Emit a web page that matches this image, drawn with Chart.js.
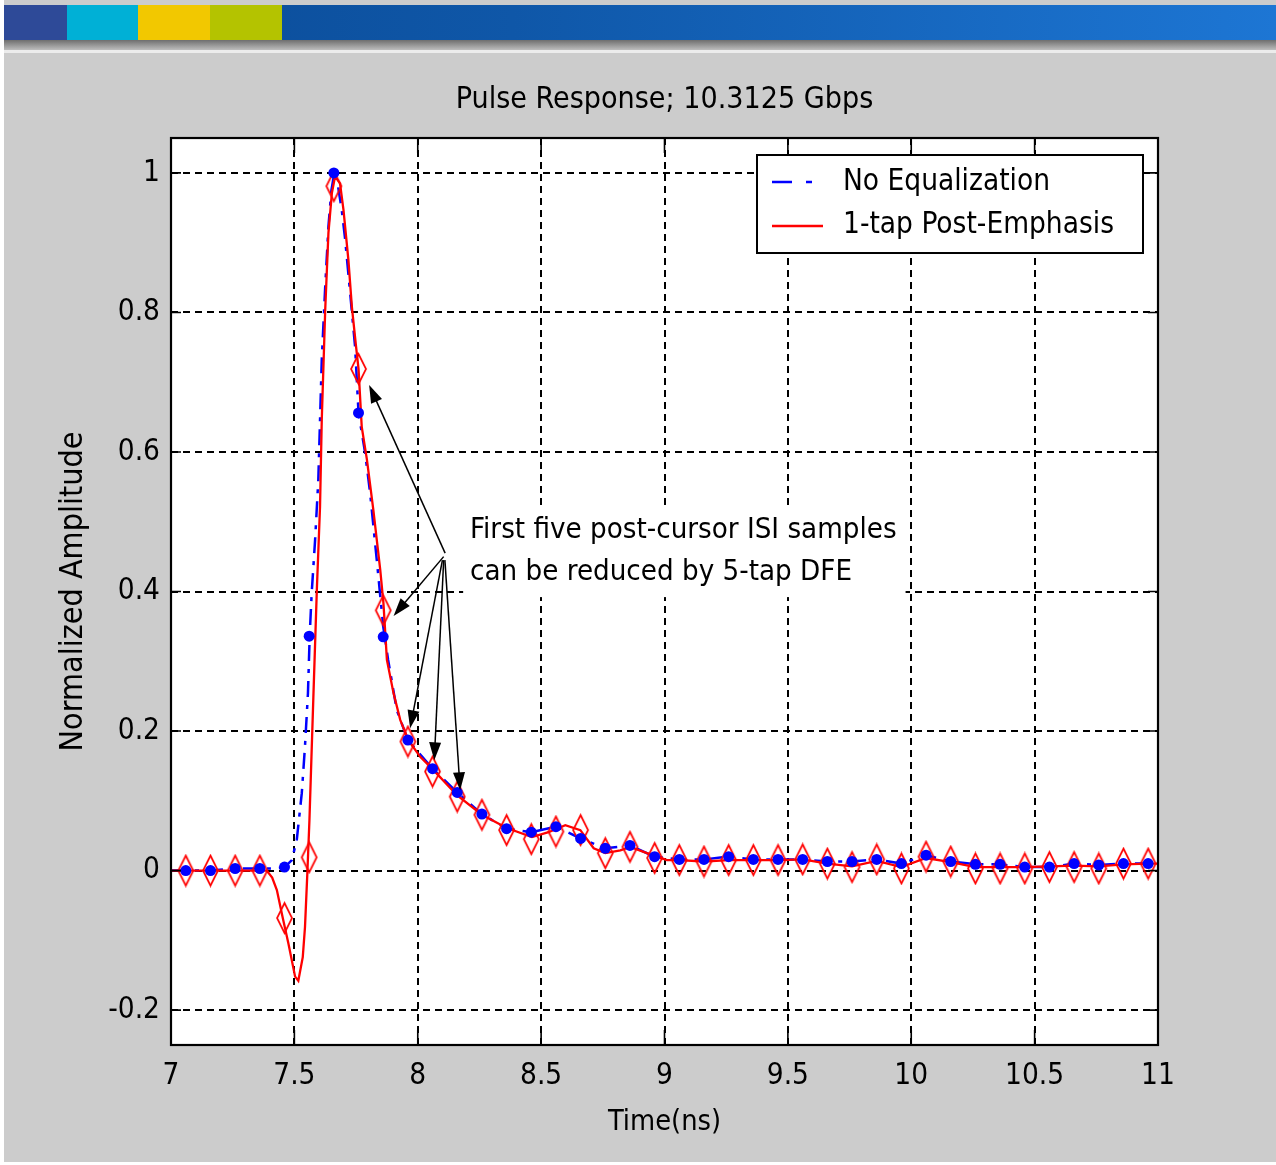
<!DOCTYPE html>
<html>
<head>
<meta charset="utf-8">
<script src="https://cdn.jsdelivr.net/npm/chart.js@4.4.1/dist/chart.umd.min.js"></script>
<style>
html, body { margin: 0; padding: 0; }
body { width: 1276px; height: 1165px; background: #ffffff; position: relative; overflow: hidden; }
#panel { position: absolute; left: 4px; top: 0; width: 1272px; height: 1162px; background: #cccccc; }
#banner { position: absolute; left: 4px; top: 5px; width: 1272px; height: 35px; background: linear-gradient(to right, #0a4994, #0f57a8 40%, #1d76d4); }
.blk { position: absolute; top: 0; height: 35px; }
#shadow { position: absolute; left: 4px; top: 40px; width: 1272px; height: 10px; background: linear-gradient(#6e6e6e, #bdbdbd); }
#hl { position: absolute; left: 4px; top: 50px; width: 1272px; height: 3px; background: #ececec; }
#wrap { position: absolute; left: 0; top: 0; width: 1276px; height: 1165px; }
</style>
</head>
<body>
<div id="panel"></div>
<div id="banner">
  <div class="blk" style="left:0;width:63px;background:#2e4a98"></div>
  <div class="blk" style="left:63px;width:71px;background:#00b0d6"></div>
  <div class="blk" style="left:134px;width:72px;background:#f2c800"></div>
  <div class="blk" style="left:206px;width:72px;background:#b4c300"></div>
</div>
<div id="shadow"></div>
<div id="hl"></div>
<div id="wrap"><canvas id="c" width="1276" height="1165"></canvas></div>
<script>
// sample instants (ns), one per UI
const sampleTimes = [7.06, 7.16, 7.26, 7.36, 7.46, 7.56, 7.66, 7.76, 7.86, 7.96,
  8.06, 8.16, 8.26, 8.36, 8.46, 8.56, 8.66, 8.76, 8.86, 8.96,
  9.06, 9.16, 9.26, 9.36, 9.46, 9.56, 9.66, 9.76, 9.86, 9.96,
  10.06, 10.16, 10.26, 10.36, 10.46, 10.56, 10.66, 10.76, 10.86, 10.96];

const noEqSamples = [0, 0, 0.003, 0.003, 0.005, 0.336, 1.0, 0.656, 0.335, 0.187,
  0.146, 0.112, 0.081, 0.060, 0.055, 0.063, 0.046, 0.032, 0.036, 0.020,
  0.016, 0.016, 0.020, 0.016, 0.016, 0.016, 0.013, 0.013, 0.016, 0.010,
  0.022, 0.013, 0.009, 0.009, 0.005, 0.005, 0.010, 0.008, 0.010, 0.010];

const postEmphSamples = [0, 0, 0, 0, -0.068, 0.019, 0.981, 0.719, 0.373, 0.185,
  0.142, 0.106, 0.080, 0.058, 0.045, 0.056, 0.058, 0.025, 0.034, 0.018,
  0.015, 0.013, 0.015, 0.015, 0.015, 0.016, 0.010, 0.005, 0.016, 0.003,
  0.020, 0.013, 0.003, 0.003, 0.003, 0.005, 0.005, 0.003, 0.010, 0.010];

// continuous waveforms
const noEqTime = [7.0, 7.06, 7.16, 7.26, 7.36, 7.42, 7.46, 7.49, 7.51, 7.53, 7.543, 7.555, 7.562, 7.57,
  7.584, 7.597, 7.611, 7.625, 7.638, 7.65, 7.662, 7.675, 7.692, 7.706, 7.726, 7.746, 7.76,
  7.787, 7.807, 7.834, 7.86, 7.88, 7.915, 7.96,
  8.06, 8.16, 8.26, 8.36, 8.46, 8.56, 8.66, 8.76, 8.86, 8.96,
  9.06, 9.16, 9.26, 9.36, 9.46, 9.56, 9.66, 9.76, 9.86, 9.96,
  10.06, 10.16, 10.26, 10.36, 10.46, 10.56, 10.66, 10.76, 10.86, 10.96, 11.0];
const noEqWave = [0, 0, 0, 0.003, 0.003, 0.003, 0.005, 0.015, 0.045, 0.111, 0.178, 0.254, 0.336, 0.397,
  0.474, 0.56, 0.732, 0.837, 0.923, 0.975, 1.0, 0.985, 0.947, 0.904, 0.828, 0.751, 0.656,
  0.598, 0.541, 0.445, 0.35, 0.302, 0.23, 0.187,
  0.146, 0.112, 0.081, 0.060, 0.055, 0.063, 0.046, 0.032, 0.036, 0.020,
  0.016, 0.016, 0.020, 0.016, 0.016, 0.016, 0.013, 0.013, 0.016, 0.010,
  0.022, 0.013, 0.009, 0.009, 0.005, 0.005, 0.010, 0.008, 0.010, 0.010, 0.010];

const postEmphTime = [7.0, 7.388, 7.41, 7.429, 7.453, 7.476, 7.503, 7.516, 7.534, 7.543, 7.553, 7.561,
  7.577, 7.591, 7.604, 7.611, 7.625, 7.638, 7.652, 7.665, 7.685, 7.699, 7.719, 7.733, 7.75, 7.76,
  7.773, 7.794, 7.82, 7.848, 7.861, 7.875, 7.902, 7.929, 7.962, 8.01, 8.064, 8.159, 8.26, 8.361,
  8.463, 8.53, 8.598, 8.659, 8.713, 8.76, 8.821, 8.861, 8.929, 9.01,
  9.06, 9.16, 9.26, 9.36, 9.46, 9.56, 9.66, 9.76, 9.86, 9.96,
  10.06, 10.16, 10.26, 10.36, 10.46, 10.56, 10.66, 10.76, 10.86, 10.96, 11.0];
const postEmphWave = [0, 0, -0.01, -0.028, -0.068, -0.105, -0.152, -0.158, -0.124, -0.081, 0.0, 0.072,
  0.249, 0.402, 0.522, 0.646, 0.804, 0.914, 0.971, 0.995, 0.985, 0.947, 0.875, 0.808, 0.751, 0.719,
  0.636, 0.589, 0.517, 0.431, 0.383, 0.302, 0.254, 0.216, 0.187, 0.163, 0.144, 0.108, 0.080, 0.061,
  0.048, 0.055, 0.065, 0.058, 0.032, 0.025, 0.029, 0.034, 0.025, 0.015,
  0.015, 0.013, 0.015, 0.015, 0.015, 0.016, 0.010, 0.006, 0.014, 0.005,
  0.018, 0.012, 0.005, 0.005, 0.005, 0.006, 0.007, 0.006, 0.009, 0.010, 0.010];

const xTicks = [7, 7.5, 8, 8.5, 9, 9.5, 10, 10.5, 11];
const yTicks = [-0.2, 0, 0.2, 0.4, 0.6, 0.8, 1];

const seriesNames = ['No Equalization', '1-tap Post-Emphasis'];
const noteLines = ['First five post-cursor ISI samples', 'can be reduced by 5-tap DFE'];
// arrows: [fromX, fromY, toX, toY] in data units
const noteArrows = [
  [8.111, 0.455, 7.803, 0.696],
  [8.105, 0.450, 7.902, 0.365],
  [8.100, 0.445, 7.969, 0.204],
  [8.105, 0.445, 8.067, 0.158],
  [8.110, 0.445, 8.172, 0.115]
];

const pts = (xs, ys) => xs.map((x, i) => ({ x, y: ys[i] }));

// the original uses a narrow bitmap font; pick a condensed face if one exists
function pickFont() {
    const g = document.createElement('canvas').getContext('2d');
    const probe = 'No Equalization';
    const width = f => { g.font = f; return g.measureText(probe).width; };
    const mono = width('40px monospace');
    const tries = [
        { family: "'Liberation Sans Narrow'", weight: 'normal' },
        { family: "'DejaVu Sans Condensed'", weight: 'normal' },
        { family: "'Open Sans'", weight: 'condensed' },
        { family: "'Noto Sans'", weight: 'condensed' },
        { family: "'DejaVu Sans'", weight: 'condensed' },
        { family: "'Liberation Sans'", weight: 'condensed' }
    ];
    for (const t of tries) {
        const w = width(`${t.weight} 40px ${t.family}, monospace`);
        if (w === mono) continue;
        if (t.weight === 'condensed') {
            const plain = width(`40px ${t.family}, monospace`);
            if (w >= plain * 0.95) continue;
        }
        const w35 = width(`${t.weight} 35px ${t.family}`);
        return { family: t.family + ", 'Liberation Sans', Arial, sans-serif", weight: t.weight, k: Math.min(1.15, 207 / w35) };
    }
    const w35 = width("35px 'Liberation Sans'");
    return { family: "'Liberation Sans', Arial, sans-serif", weight: 'normal', k: 207 / w35 };
}
const F = pickFont();
const fnt = size => ({ family: F.family, weight: F.weight, size: Math.round(size * F.k * 10) / 10, lineHeight: 1.2 });
const fstr = size => `${F.weight} ${Math.round(size * F.k * 10) / 10}px ${F.family}`;

function makeDiamond(w, h, color) {
    const c = document.createElement('canvas');
    c.width = w + 4;
    c.height = h + 4;
    const g = c.getContext('2d');
    g.strokeStyle = color;
    g.lineWidth = 1.7;
    g.beginPath();
    g.moveTo(c.width / 2, 2);
    g.lineTo(c.width - 2, c.height / 2);
    g.lineTo(c.width / 2, c.height - 2);
    g.lineTo(2, c.height / 2);
    g.closePath();
    g.stroke();
    return c;
}

function arrow(ctx, x1, y1, x2, y2) {
    const a = Math.atan2(y2 - y1, x2 - x1);
    const len = 18, hw = 6;
    ctx.beginPath();
    ctx.moveTo(x1, y1);
    ctx.lineTo(x2 - Math.cos(a) * len * 0.8, y2 - Math.sin(a) * len * 0.8);
    ctx.stroke();
    ctx.beginPath();
    ctx.moveTo(x2, y2);
    ctx.lineTo(x2 - Math.cos(a) * len - Math.sin(a) * hw, y2 - Math.sin(a) * len + Math.cos(a) * hw);
    ctx.lineTo(x2 - Math.cos(a) * len + Math.sin(a) * hw, y2 - Math.sin(a) * len - Math.cos(a) * hw);
    ctx.closePath();
    ctx.fill();
}

const decorations = {
    id: 'decorations',
    beforeDraw(chart) {
        const { ctx, chartArea: a } = chart;
        ctx.save();
        ctx.fillStyle = '#ffffff';
        ctx.fillRect(a.left, a.top, a.right - a.left, a.bottom - a.top);
        ctx.restore();
    },
    beforeDatasetsDraw(chart) {
        const { ctx, scales: { x, y } } = chart;
        ctx.save();
        // text box with white background over the grid
        const bx = x.getPixelForValue(8.184), by = y.getPixelForValue(0.524);
        const bx2 = x.getPixelForValue(9.977), by2 = y.getPixelForValue(0.392);
        ctx.fillStyle = '#ffffff';
        ctx.fillRect(bx, by, bx2 - bx, by2 - by);
        ctx.fillStyle = '#000000';
        ctx.font = fstr(34.7);
        ctx.textBaseline = 'middle';
        ctx.fillText(noteLines[0], x.getPixelForValue(8.212), y.getPixelForValue(0.487));
        ctx.fillText(noteLines[1], x.getPixelForValue(8.212), y.getPixelForValue(0.427));
        ctx.restore();
    },
    afterDatasetsDraw(chart) {
        const { ctx, chartArea: a, scales: { x, y } } = chart;
        ctx.save();
        ctx.strokeStyle = '#000000';
        ctx.fillStyle = '#000000';
        ctx.lineWidth = 1.5;
        noteArrows.forEach(([fx, fy, tx, ty]) => {
            arrow(ctx, x.getPixelForValue(fx), y.getPixelForValue(fy), x.getPixelForValue(tx), y.getPixelForValue(ty));
        });

        // inner ticks
        ctx.lineWidth = 1.6;
        ctx.beginPath();
        xTicks.forEach(v => {
            const px = x.getPixelForValue(v);
            ctx.moveTo(px, a.bottom); ctx.lineTo(px, a.bottom - 15);
            ctx.moveTo(px, a.top); ctx.lineTo(px, a.top + 15);
        });
        yTicks.forEach(v => {
            const py = y.getPixelForValue(v);
            ctx.moveTo(a.left, py); ctx.lineTo(a.left + 10, py);
            ctx.moveTo(a.right, py); ctx.lineTo(a.right - 10, py);
        });
        ctx.stroke();

        // axes box
        ctx.lineWidth = 2.2;
        ctx.strokeRect(a.left, a.top, a.right - a.left, a.bottom - a.top);

        // legend
        const lx = a.right - 401, ly = a.top + 17, lw = 386, lh = 98;
        ctx.fillStyle = '#ffffff';
        ctx.fillRect(lx, ly, lw, lh);
        ctx.lineWidth = 2;
        ctx.strokeRect(lx, ly, lw, lh);
        ctx.lineWidth = 2.5;
        ctx.strokeStyle = '#0000ff';
        ctx.setLineDash([20, 14, 6, 14]);
        ctx.beginPath();
        ctx.moveTo(lx + 15, ly + 27); ctx.lineTo(lx + 56, ly + 27);
        ctx.stroke();
        ctx.setLineDash([]);
        ctx.strokeStyle = '#ff0000';
        ctx.lineWidth = 2.3;
        ctx.beginPath();
        ctx.moveTo(lx + 15, ly + 71); ctx.lineTo(lx + 66, ly + 71);
        ctx.stroke();
        ctx.fillStyle = '#000000';
        ctx.font = fstr(35);
        ctx.textBaseline = 'middle';
        ctx.fillText(seriesNames[0], lx + 86, ly + 27);
        ctx.fillText(seriesNames[1], lx + 86, ly + 70);
        ctx.restore();
    }
};

const diamond = makeDiamond(15, 30, '#ff0000');

new Chart(document.getElementById('c'), {
    type: 'scatter',
    data: {
        datasets: [
            {
                label: seriesNames[0] + ' samples',
                data: pts(sampleTimes, noEqSamples),
                showLine: false,
                pointStyle: 'circle',
                pointRadius: 5.5,
                backgroundColor: '#0000ff',
                borderColor: '#0000ff',
                borderWidth: 0,
                order: 0
            },
            {
                label: seriesNames[1] + ' samples',
                data: pts(sampleTimes, postEmphSamples),
                showLine: false,
                pointStyle: diamond,
                pointRadius: 8,
                order: 1
            },
            {
                label: seriesNames[1],
                data: pts(postEmphTime, postEmphWave),
                showLine: true,
                borderColor: '#ff0000',
                borderWidth: 2.3,
                pointRadius: 0,
                tension: 0,
                order: 2
            },
            {
                label: seriesNames[0],
                data: pts(noEqTime, noEqWave),
                showLine: true,
                borderColor: '#0000ff',
                borderWidth: 2.5,
                borderDash: [16, 8, 4, 8],
                pointRadius: 0,
                tension: 0,
                order: 3
            }
        ]
    },
    options: {
        responsive: false,
        animation: false,
        devicePixelRatio: 1,
        layout: { padding: { top: 0, right: 118, bottom: 0, left: 0 } },
        plugins: {
            legend: { display: false },
            tooltip: { enabled: false },
            title: {
                display: true,
                text: 'Pulse Response; 10.3125 Gbps',
                color: '#000000',
                fullSize: false,
                font: { ...fnt(35.7), lineHeight: 40 / (35.7 * F.k) },
                padding: { top: 80, bottom: 18 }
            }
        },
        scales: {
            x: {
                type: 'linear',
                min: 7,
                max: 11,
                afterFit: s => { s.height = 120; },
                afterBuildTicks: s => { s.ticks = xTicks.map(v => ({ value: v })); },
                ticks: {
                    color: '#000000',
                    padding: 14,
                    maxRotation: 0,
                    autoSkip: false,
                    font: fnt(35),
                    callback: v => String(Number(v.toFixed(1)))
                },
                grid: { color: '#000000', lineWidth: 2, drawTicks: false },
                border: { display: false, dash: [7, 5] },
                title: {
                    display: true,
                    text: 'Time(ns)',
                    color: '#000000',
                    font: fnt(34),
                    padding: { top: 0, bottom: 25 }
                }
            },
            y: {
                type: 'linear',
                min: -0.25,
                max: 1.05,
                afterFit: s => { s.width = 171; },
                afterBuildTicks: s => { s.ticks = yTicks.map(v => ({ value: v })); },
                ticks: {
                    color: '#000000',
                    padding: 11,
                    autoSkip: false,
                    font: fnt(35),
                    callback: v => String(Number(v.toFixed(1)))
                },
                grid: { color: '#000000', lineWidth: 2, drawTicks: false },
                border: { display: false, dash: [7, 5] },
                title: {
                    display: true,
                    text: 'Normalized Amplitude',
                    color: '#000000',
                    font: fnt(38),
                    padding: { top: 54, bottom: 0 }
                }
            }
        }
    },
    plugins: [decorations]
});
</script>
</body>
</html>
